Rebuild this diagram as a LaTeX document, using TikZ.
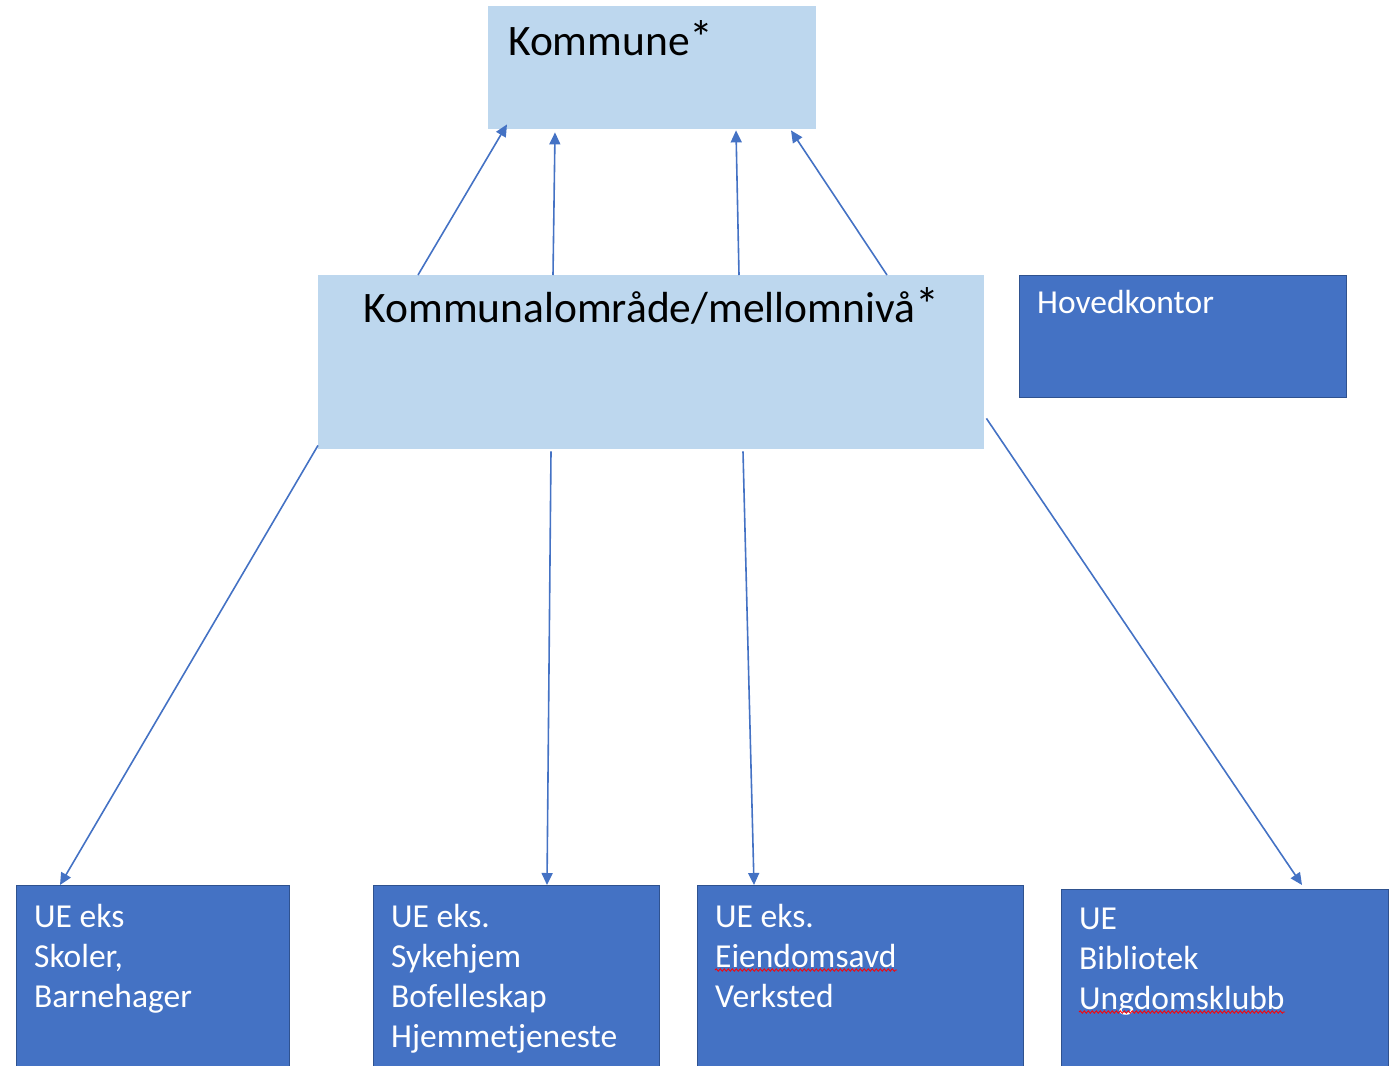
\documentclass[tikz,border=0pt]{standalone}
\usepackage{fontspec}
\setmainfont{Carlito}
\usetikzlibrary{positioning, calc, arrows.meta, decorations.pathmorphing}
\definecolor{lightfill}{HTML}{BDD7EE}
\definecolor{unitfill}{HTML}{4472C4}
\definecolor{unitedge}{HTML}{2F528F}
\newcommand{\upstar}{\raisebox{.02em}{\scalebox{1.1}{*}}}
\tikzstyle{levelbox} = [rectangle, fill=lightfill, draw=none, anchor=north west, inner sep=0pt]
\tikzstyle{unitbox} = [rectangle, fill=unitfill, draw=unitedge, line width=0.8pt, anchor=north west, inner sep=0pt]
\tikzstyle{leveltext} = [font=\fontsize{43.5}{50}\selectfont, inner sep=0pt]
\tikzstyle{unittext} = [font=\fontsize{33.5}{40}\selectfont, text=white, align=left, anchor=north west, inner sep=0pt]
\tikzstyle{arrow} = [line width=1.6pt, draw=unitfill, -{Triangle[length=12pt, width=11pt]}]
\tikzstyle{spell} = [red, line width=0.8pt, decorate, decoration={snake, amplitude=1.2pt, segment length=4pt}]

\begin{document}
\begin{tikzpicture}[x=1pt, y=1pt]
	\useasboundingbox (0,0) rectangle (1393,-1066);

	% levels
	\node (kommune) [levelbox, minimum width=328, minimum height=123] at (488,-6) {};
	\node (mellom) [levelbox, minimum width=666, minimum height=174] at (318,-275) {};
	\node (hoved) [unitbox, minimum width=327, minimum height=122] at (1019,-275) {};

	% units
	\node (ue1) [unitbox, minimum width=273, minimum height=195] at (16,-885) {};
	\node (ue2) [unitbox, minimum width=286, minimum height=195] at (373,-885) {};
	\node (ue3) [unitbox, minimum width=326, minimum height=195] at (697,-885) {};
	\node (ue4) [unitbox, minimum width=327, minimum height=190] at (1061,-889) {};

	% texts
	\node (kommunetxt) [leveltext, anchor=base west] at ($(kommune.north west)+(20,-49)$) {Kommune\upstar};
	\node (mellomtxt) [leveltext, anchor=base] at ($(mellom.north)+(0,-47)$) {Kommunalområde/mellomnivå\upstar};
	\node (hovedtxt) [unittext, anchor=base west] at ($(hoved.north west)+(18,-38)$) {Hovedkontor};
	\node (ue1txt) [unittext] at ($(ue1.north west)+(18,-19)$) {UE eks\\Skoler,\\Barnehager};
	\node (ue2txt) [unittext] at ($(ue2.north west)+(18,-19)$) {UE eks.\\Sykehjem\\Bofelleskap\\Hjemmetjeneste};
	\node (ue3txt) [unittext] at ($(ue3.north west)+(18,-19)$) {UE eks.\\Eiendomsavd\\Verksted};
	\node (ue4txt) [unittext] at ($(ue4.north west)+(18,-19)$) {UE\\Bibliotek\\Ungdomsklubb};

	\draw [spell] ($(ue3.north west)+(18,-85)$) -- ($(ue3.north west)+(200,-85)$);
	\draw [spell] ($(ue4.north west)+(18,-123)$) -- ($(ue4.north west)+(224,-123)$);

	% up to kommune
	\draw [arrow] ([xshift=100]mellom.north west) -- ([xshift=19, yshift=5]kommune.south west);
	\draw [arrow] ([xshift=235]mellom.north west) -- ([xshift=67, yshift=-3]kommune.south west);
	\draw [arrow] ([xshift=421]mellom.north west) -- ([xshift=248, yshift=-1]kommune.south west);
	\draw [arrow] ([xshift=569]mellom.north west) -- ([xshift=303, yshift=-1]kommune.south west);

	% down to units
	\draw [arrow] ([yshift=4]mellom.south west) -- ([xshift=44]ue1.north west);
	\draw [arrow] ([xshift=233, yshift=-2]mellom.south west) -- ([xshift=174]ue2.north west);
	\draw [arrow] ([xshift=425, yshift=-2]mellom.south west) -- ([xshift=57]ue3.north west);
	\draw [arrow] ([xshift=2, yshift=31]mellom.south east) -- ([xshift=241, yshift=4]ue4.north west);
\end{tikzpicture}
\end{document}
